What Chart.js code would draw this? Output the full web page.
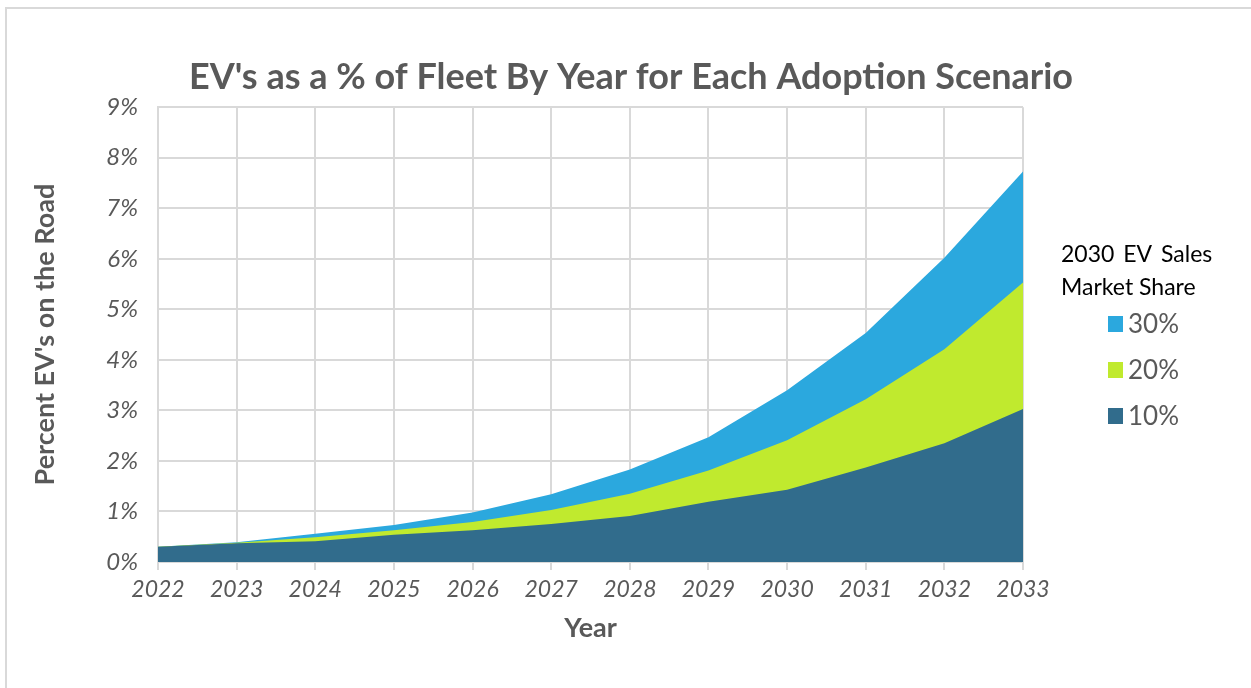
<!DOCTYPE html>
<html>
<head>
<meta charset="utf-8">
<title>EV Fleet Share</title>
<script src="https://cdn.jsdelivr.net/npm/chart.js@4"></script>
<style>
    html, body { margin: 0; padding: 0; background: #fff; overflow: hidden; }
    #frame {
        position: absolute; left: 5px; top: 7px;
        width: 1260px; height: 700px;
        border-left: 2px solid #d9d9d9; border-top: 2px solid #d9d9d9;
    }
    #wrap { position: absolute; left: 0; top: 0; width: 1251px; height: 688px; }
</style>
</head>
<body>
<div id="frame"></div>
<div id="wrap"><canvas id="fleet-chart"></canvas></div>
<script>
const years = ['2022', '2023', '2024', '2025', '2026', '2027', '2028', '2029', '2030', '2031', '2032', '2033'];

// percent of fleet on the road, by 2030 sales share scenario
const share10 = [0.30, 0.37, 0.41, 0.54, 0.63, 0.75, 0.91, 1.19, 1.43, 1.87, 2.35, 3.03];
const share20 = [0.30, 0.38, 0.49, 0.63, 0.79, 1.03, 1.35, 1.81, 2.41, 3.22, 4.21, 5.53];
const share30 = [0.30, 0.39, 0.56, 0.73, 0.98, 1.34, 1.83, 2.47, 3.40, 4.53, 6.02, 7.73];

const yTicks = [0, 1, 2, 3, 4, 5, 6, 7, 8, 9];

const gray = '#595959';

// legend drawn by hand so the title and items sit like the Excel original
const sideLegend = {
    id: 'sideLegend',
    afterDraw(chart) {
        const ctx = chart.ctx;
        ctx.save();
        ctx.fillStyle = '#000';
        ctx.font = '23px Lato';
        ctx.textAlign = 'left';
        ctx.textBaseline = 'middle';
        ctx.wordSpacing = '3px';
        ctx.fillText('2030 EV Sales', 1061, 255);
        ctx.wordSpacing = '0px';
        ctx.fillText('Market Share', 1061, 288);

        const order = [2, 1, 0];
        order.forEach((di, i) => {
            const ds = chart.data.datasets[di];
            const y = 324 + i * 46;
            ctx.fillStyle = ds.backgroundColor;
            ctx.fillRect(1108, y - 8, 15, 16);
            ctx.fillStyle = gray;
            ctx.font = '26px Lato';
            ctx.fillText(ds.label, 1128, y + 1);
        });
        ctx.restore();
    }
};

function makeSet(label, values, color) {
    return {
        label: label,
        data: values,
        backgroundColor: color,
        borderColor: color,
        borderWidth: 0,
        pointRadius: 0,
        fill: 'origin',
        tension: 0
    };
}

const ctx = document.getElementById('fleet-chart').getContext('2d');
window.fleetChart = new Chart(ctx, {
    type: 'line',
    data: {
        labels: years,
        // first dataset is painted last, so the smallest scenario sits on top
        datasets: [
            makeSet('10%', share10, '#316c8c'),
            makeSet('20%', share20, '#c0ea2e'),
            makeSet('30%', share30, '#2ba8de')
        ]
    },
    options: {
        responsive: true,
        maintainAspectRatio: false,
        animation: false,
        layout: { padding: { left: 22, right: 11, top: 38, bottom: 40 } },
        plugins: {
            legend: { display: false },
            tooltip: { enabled: false },
            title: {
                display: true,
                text: "EV's as a % of Fleet By Year for Each Adoption Scenario",
                color: gray,
                font: { family: 'Lato', size: 36, weight: 'bold' },
                padding: { top: 18, bottom: 8 }
            }
        },
        scales: {
            x: {
                offset: false,
                grid: { color: '#d9d9d9', lineWidth: 2, tickLength: 8 },
                border: { color: '#d9d9d9', width: 2 },
                ticks: {
                    color: gray,
                    font: { family: 'Lato', size: 23, style: 'italic' },
                    padding: 6,
                    maxRotation: 0,
                    autoSkip: false
                },
                title: {
                    display: true,
                    text: 'Year',
                    color: gray,
                    font: { family: 'Lato', size: 27, weight: 'bold' },
                    padding: { top: 2 }
                }
            },
            y: {
                min: 0,
                max: 9,
                afterBuildTicks: (scale) => {
                    scale.ticks = yTicks.map(v => ({ value: v }));
                },
                afterFit: (scale) => { scale.width = 136; },
                grid: { color: '#d9d9d9', lineWidth: 2, drawTicks: false },
                border: { color: '#d9d9d9', width: 2 },
                ticks: {
                    color: gray,
                    font: { family: 'Lato', size: 24, style: 'italic' },
                    padding: 20,
                    callback: (v) => v + '%'
                },
                title: {
                    display: true,
                    text: "Percent EV's on the Road",
                    color: gray,
                    font: { family: 'Lato', size: 27, weight: 'bold' },
                    padding: { top: 7, bottom: 0 }
                }
            },
            // empty right-hand axis that keeps room for the legend
            side: {
                position: 'right',
                display: true,
                grid: { display: false },
                border: { display: false },
                ticks: { display: false },
                afterFit: (scale) => { scale.width = 217; }
            }
        }
    },
    plugins: [sideLegend]
});
</script>
</body>
</html>
